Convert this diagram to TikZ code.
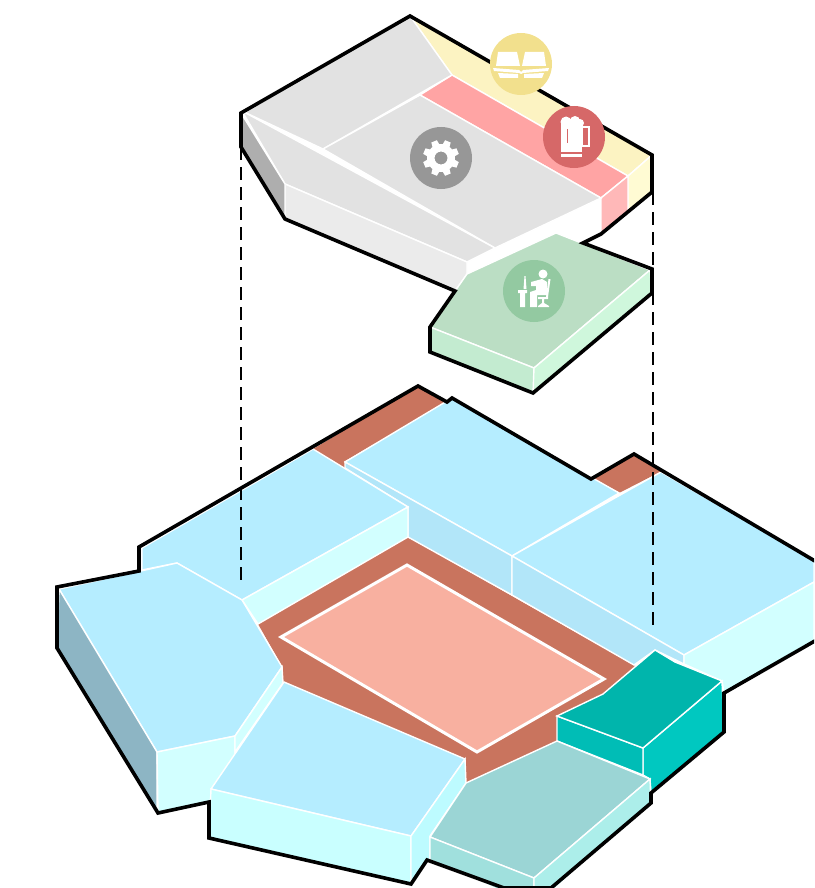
\documentclass[tikz,border=0pt]{standalone}
\usepackage{xcolor}
\usepackage{tikz}
\usetikzlibrary{positioning}
\definecolor{cGrey}{HTML}{E2E2E2}
\definecolor{cGreyLow}{HTML}{EBEBEB}
\definecolor{cGreyDark}{HTML}{AEAEAE}
\definecolor{cYellow}{HTML}{FCF3C2}
\definecolor{cYellowLow}{HTML}{FFFBD3}
\definecolor{cPink}{HTML}{FFA4A4}
\definecolor{cPinkLow}{HTML}{FFB8B8}
\definecolor{cGreen}{HTML}{BBDEC4}
\definecolor{cGreenLow}{HTML}{C3EBD0}
\definecolor{cGreenSide}{HTML}{CFF7DC}
\definecolor{cBlue}{HTML}{B5EDFF}
\definecolor{cBlueLow}{HTML}{B2E6F9}
\definecolor{cCyan}{HTML}{D2FFFF}
\definecolor{cCyanFront}{HTML}{C9FFFF}
\definecolor{cCyanSide}{HTML}{BDFBFF}
\definecolor{cSlate}{HTML}{8DB5C4}
\definecolor{cBrown}{HTML}{C9745E}
\definecolor{cSalmon}{HTML}{F8B0A0}
\definecolor{cMist}{HTML}{9BD5D5}
\definecolor{cMistLow}{HTML}{A0E0DD}
\definecolor{cMistSide}{HTML}{ACEEEA}
\definecolor{cTeal}{HTML}{00B5AC}
\definecolor{cTealLow}{HTML}{00BDB6}
\definecolor{cTealSide}{HTML}{00C8C0}
\definecolor{cBook}{HTML}{F2E08D}
\definecolor{cMug}{HTML}{D66868}
\definecolor{cGear}{HTML}{979797}
\definecolor{cDesk}{HTML}{93C9A1}

\begin{document}
\begin{tikzpicture}[x=1pt,y=-1pt,
 face/.style={fill=#1,draw=white,line width=1.4pt},
 outline/.style={draw=black,line width=3.6pt},
 guide/.style={draw=black,line width=1.4pt,dash pattern=on 13pt off 7pt},
 icon/.style={circle,minimum size=62pt,inner sep=0pt},
 glyph/.style={fill=white,draw=none}]
\useasboundingbox (0,0) rectangle (814,888);
\clip (0,0) rectangle (814,888);
\draw[face=cYellow] (410,16)--(652,155)--(628,176)--(452,75)--cycle;
\draw[face=cYellowLow] (628,176)--(652,155)--(652,192)--(628,212)--cycle;
\draw[face=cPink] (452,75)--(628,176)--(601,198)--(420,95)--cycle;
\draw[face=cPinkLow] (601,198)--(628,176)--(628,212)--(601,233)--cycle;
\draw[face=cGrey] (410,16)--(452,75)--(323,149)--(242,111)--cycle;
\draw[face=cGrey] (420,95)--(601,198)--(495,248)--(323,149)--cycle;
\draw[face=cGrey] (242,111)--(495,248)--(467,262)--(285,184)--cycle;
\draw[face=cGreyLow] (285,184)--(467,262)--(467,274)--(455,291)--(285,219)--cycle;
\draw[face=cGreyDark] (241,113)--(285,184)--(285,219)--(241,147)--cycle;
\draw[face=cGreen] (467,274)--(556,233)--(650,270)--(534,368)--(430,327)--cycle;
\draw[face=cGreenLow] (430,327)--(534,368)--(534,393)--(430,352)--cycle;
\draw[face=cGreenSide] (534,368)--(650,270)--(652,293)--(533,393)--cycle;
\draw[outline] (241,113)--(410,16)--(652,155)--(652,192)--(601,234)--(583,243)--(652,269)--(652,293)--(533,393)--(430,352)--(430,327)--(455,291)--(285,219)--(241,147)--cycle;

\fill[cBrown] (313,449)--(418,386)--(447,402)--(345,461)--(345,468)--cycle;
\fill[cBrown] (591,479)--(634,454)--(662,471)--(619,493)--cycle;
\draw[white,line width=1.4pt] (591,479)--(619,493);
\fill[cBrown] (258,624)--(408,537)--(660,680)--(557,742)--(466,783)--(466,760)--(283,683)--(283,668)--cycle;
\draw[fill=cSalmon,draw=white,line width=3pt] (281,637)--(407,565)--(604,679)--(477,752)--cycle;
\draw[face=cBlue] (345,462)--(452,398)--(619,493)--(512,556)--cycle;
\draw[face=cBlueLow] (345,462)--(512,556)--(512,595)--(408,537)--(408,507)--(345,468)--cycle;
\draw[face=cBlue] (512,556)--(661,472)--(814,560)--(814,582)--(684,655)--cycle;
\draw[face=cBlueLow] (512,556)--(684,655)--(684,664)--(655,650)--(634,665)--(512,595)--cycle;
\draw[face=cCyan] (684,655)--(814,582)--(814,642)--(724,693)--(722,681)--(684,664)--cycle;
\draw[face=cBlue] (142,548)--(313,449)--(408,507)--(242,600)--(177,563)--(142,570)--cycle;
\draw[face=cCyan] (408,507)--(408,537)--(258,624)--(242,600)--cycle;
\draw[face=cBlue] (59,589)--(177,563)--(242,600)--(282,667)--(235,736)--(157,752)--cycle;
\draw[face=cSlate] (59,589)--(157,752)--(157,813)--(57,648)--cycle;
\draw[face=cCyan] (157,752)--(235,736)--(235,756)--(209,802)--(158,813)--cycle;
\draw[face=cCyan] (235,736)--(282,667)--(283,683)--(235,752)--cycle;
\draw[face=cBlue] (284,682)--(465,759)--(411,836)--(211,789)--cycle;
\draw[face=cCyanFront] (211,789)--(411,836)--(411,884)--(209,838)--cycle;
\draw[face=cCyanSide] (411,836)--(465,759)--(466,783)--(430,836)--(430,860)--(411,884)--cycle;
\draw[face=cTealSide] (643,748)--(722,681)--(724,732)--(651,793)--(650,779)--(643,775)--cycle;
\draw[face=cTealLow] (557,716)--(643,748)--(643,775)--(557,741)--cycle;
\draw[face=cTeal] (557,716)--(603,694)--(655,650)--(675,662)--(722,681)--(643,748)--cycle;
\draw[face=cMist] (466,783)--(557,741)--(650,779)--(534,878)--(430,837)--cycle;
\draw[face=cMistLow] (430,837)--(534,878)--(534,892)--(504,892)--(430,860)--cycle;
\draw[face=cMistSide] (534,878)--(650,779)--(651,803)--(551,892)--(534,892)--cycle;
\draw[outline] (57,587)--(139,571)--(139,547)--(418,386)--(447,402)--(452,398)--(591,479)--(634,454)--(820,564)--(820,638)--(724,693)--(724,732)--(651,793)--(651,803)--(551,888)--(504,888)--(427,860)--(411,884)--(209,838)--(209,802)--(158,813)--(57,648)--cycle;

\coordinate (guideA) at (241,147);
\coordinate (guideB) at (241,585);
\coordinate (guideC) at (653,192);
\coordinate (guideD) at (653,625);
\draw[guide] (guideA)--(guideB);
\draw[guide] (guideC)--(guideD);

\node[icon,fill=cBook] (book) at (521,64) {};
\node[icon,fill=cMug] (mug) at (574,137) {};
\node[icon,fill=cGear] (gear) at (441,158) {};
\node[icon,fill=cDesk] (desk) at (534,291) {};

\begin{scope}[shift={(book.center)}]
\fill[glyph] (-23,-12)--(-4,-12)--(-1,2)--(-25,2)--cycle;
\fill[glyph] (23,-12)--(4,-12)--(1,2)--(25,2)--cycle;
\fill[glyph] (-28,4)--(-2,6)--(0,8)--(2,6)--(28,4)--(27,7)--(2,9)--(0,10)--(-2,9)--(-27,7)--cycle;
\fill[glyph] (-23,9)--(-3,10)--(-3,14)--(-21,14)--cycle;
\fill[glyph] (23,9)--(3,10)--(3,14)--(21,14)--cycle;
\end{scope}

\begin{scope}[shift={(mug.center)}]
\fill[glyph] (-8,-15) circle (5.5) (1,-16) circle (5) (6,-14) circle (4);
\fill[glyph] (-13,-14) rectangle (-7,6);
\fill[glyph] (-7,-13) rectangle (8,-8);
\fill[glyph] (-6,-8) rectangle (8,15);
\fill[glyph] (-13,6) rectangle (-4,15);
\draw[white,line width=1.2pt] (8,-10) rectangle (15,9);
\fill[glyph] (-13,17) rectangle (8,20);
\end{scope}

\begin{scope}[shift={(gear.center)}]
\foreach \ang in {0,45,...,315}
  \fill[glyph,rotate=\ang+22.5] (-3,-18)--(3,-18)--(4,-11)--(-4,-11)--cycle;
\fill[glyph,even odd rule] (0,0) circle (14) (0,0) circle (6.5);
\end{scope}

\begin{scope}[shift={(desk.center)}]
\fill[glyph] (9,-17) circle (4.5);
\fill[glyph] (-3,-9)--(8,-12)--(13,-9)--(13,4)--(3,4)--(3,16)--(-4,16)--(-4,1)--(2,-1)--(2,-5)--(-3,-5)--cycle;
\fill[glyph] (-16,-1)--(-7,-1)--(-7,2)--(-9,2)--(-9,16)--(-14,16)--(-14,2)--(-16,2)--cycle;
\fill[glyph] (-9.5,-15)--(-8.5,-15)--(-7.5,-2)--(-10.5,-2)--cycle;
\fill[glyph] (14.5,-12)--(16.5,-12)--(14,6)--(12,6)--cycle;
\fill[glyph] (4,6)--(14,6)--(14,8)--(10,8)--(10,12)--(15,15)--(15,16)--(4,16)--(4,15)--(8,12)--(8,8)--(4,8)--cycle;
\end{scope}
\end{tikzpicture}
\end{document}
